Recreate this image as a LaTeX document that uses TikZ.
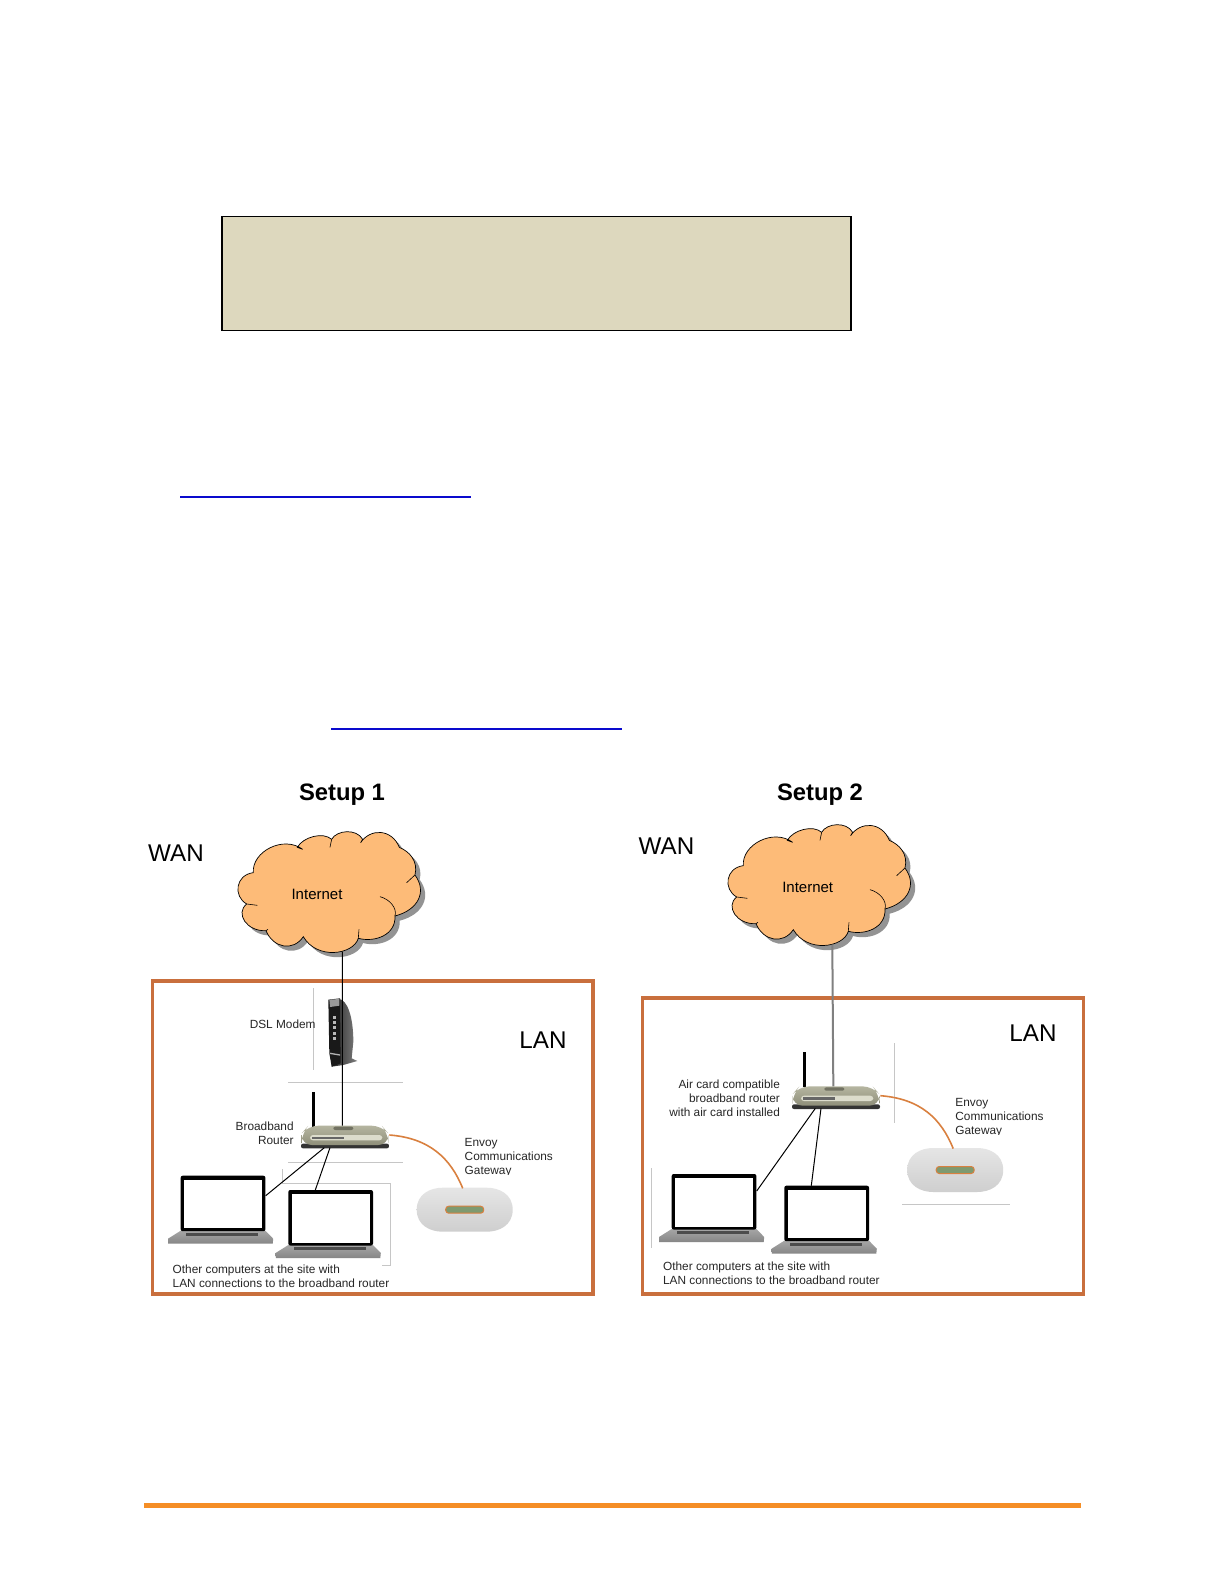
\documentclass[tikz,border=0pt]{standalone}
\usepackage{fontspec}
\setmainfont{Liberation Sans}
\definecolor{lanorange}{HTML}{C96F3D}
\definecolor{cloudfill}{HTML}{FDBB78}
\definecolor{notefill}{HTML}{DDD8BE}
\definecolor{linkblue}{HTML}{0A0ACD}
\definecolor{footorange}{HTML}{F58E26}
\definecolor{wireorange}{HTML}{D9803F}
\definecolor{routertop}{HTML}{B5B5A0}
\definecolor{routerlow}{HTML}{8F8F7A}
\definecolor{routerstrip}{HTML}{DCDCCC}
\definecolor{gwscreen}{HTML}{7E9A70}
\tikzset{
  cloudpath/.pic={
    \begin{scope}[scale=0.3333]
      \path[pic actions] (340,338) .. controls (335,275) and (430,225) .. (488,268)
        -- (472,262) .. controls (490,230) and (550,215) .. (575,238)
        .. controls (590,210) and (650,205) .. (668,238)
        -- (662,248) .. controls (690,205) and (755,205) .. (778,262)
        .. controls (810,275) and (835,305) .. (825,345)
        .. controls (862,395) and (835,450) .. (765,468)
        .. controls (768,525) and (705,548) .. (655,535)
        .. controls (640,585) and (530,600) .. (490,530)
        .. controls (460,575) and (400,565) .. (378,512)
        .. controls (320,515) and (285,460) .. (320,432)
        .. controls (280,410) and (285,345) .. (340,338) -- cycle;
    \end{scope}
  },
  cloudfolds/.pic={
    \begin{scope}[scale=0.3333]
      \draw[line width=0.3pt] (825,345) -- (800,368);
      \draw[line width=0.3pt] (720,410) .. controls (750,418) and (772,445) .. (765,468);
      \draw[line width=0.3pt] (655,535) -- (657,508);
      \draw[line width=0.3pt] (320,432) -- (352,436);
      \draw[line width=0.3pt] (378,512) -- (384,508);
      \draw[line width=0.3pt] (575,238) -- (570,262);
      \coordinate (-bottom) at (607,575);
    \end{scope}
  },
  laptop/.pic={
    \shade[top color=gray!70, bottom color=gray!95] (0,55) -- (84.7,55) -- (92.5,63) -- (92,68) -- (-12.5,68) -- (-12.7,63) -- cycle;
    \fill[black!70] (5.3,57) rectangle (77.7,60);
    \fill[black, rounded corners=1pt] (0,0) rectangle (84.7,55.5);
    \fill[white] (3.3,4) rectangle (81.3,52.7);
    \coordinate (-top) at (27,0);
    \coordinate (-right) at (85,20);
  },
  router/.pic={
    \begin{scope}[scale=0.3333]
      \fill[black] (52,20) rectangle (60,125);
      \fill[black!80, rounded corners=1pt] (18,176) rectangle (282,190);
      \shade[top color=routertop, bottom color=routerlow, rounded corners=5pt] (20,180) -- (20,145) -- (40,122) -- (260,122) -- (280,145) -- (280,180) -- cycle;
      \fill[routerlow!80!black, rounded corners=1pt] (115,125) rectangle (175,135);
      \fill[routerstrip, rounded corners=1.5pt] (45,150) rectangle (262,166);
      \fill[black!60] (52,155) rectangle (146,162);
      \coordinate (-top) at (142,122);
      \coordinate (-lana) at (88,188);
      \coordinate (-lanb) at (105,188);
      \coordinate (-wan) at (283,150);
    \end{scope}
  },
  gateway/.pic={
    \fill[white] (-52,-34.7) rectangle (52,-22);
    \shade[top color=gray!20, bottom color=gray!38] (-48,0) .. controls (-48,-16) and (-34,-22) .. (-22,-22) -- (22,-22) .. controls (34,-22) and (48,-16) .. (48,0) .. controls (48,16) and (34,22) .. (22,22) -- (-22,22) .. controls (-34,22) and (-48,16) .. (-48,0) -- cycle;
    \draw[draw=wireorange, fill=gwscreen, line width=0.5pt, rounded corners=1.5pt] (-19,-3.5) rectangle (19,3.5);
    \coordinate (-top) at (-2,-21.4);
  },
  modem/.pic={
    \begin{scope}[scale=0.3333]
      \shade[left color=black!85, right color=black!50] (118,42) .. controls (140,45) and (160,90) .. (160,170) -- (155,220) -- (172,228) -- (130,240) -- (95,245) -- cycle;
      \fill[black!90] (85,44) -- (120,40) -- (122,235) -- (95,245) -- (88,205) -- cycle;
      \fill[gray!80] (88,44) -- (118,42) -- (118,62) -- (90,66) -- cycle;
      \fill[gray!60] (90,203) -- (120,208) -- (120,212) -- (90,207) -- cycle;
      \foreach \ledy in {92,108,124,140,156}
        \fill[gray!55] (100,\ledy) rectangle (109,\ledy+9);
    \end{scope}
  },
}
\begin{document}
\begin{tikzpicture}[x=0.5pt, y=-0.5pt]
  %
  \tikzstyle{setuptitle} = [inner sep=0pt, font=\fontsize{11.9}{14}\selectfont\bfseries]
  \tikzstyle{zonelabel} = [inner sep=0pt, font=\fontsize{12.1}{14}\selectfont]
  \tikzstyle{devlabel} = [inner sep=0pt, text=black!85, font=\fontsize{5.92}{7}\selectfont]
  \tikzstyle{cloudlabel} = [inner sep=0pt, font=\fontsize{7.5}{9}\selectfont]
  \tikzstyle{lanbox} = [draw=lanorange, line width=1.75pt]
  \tikzstyle{faint} = [draw=gray!45, line width=0.3pt]
  \tikzstyle{wire} = [draw=black, line width=0.5pt]
  \tikzstyle{uplink} = [draw=gray, line width=1pt]
  \tikzstyle{orangewire} = [draw=wireorange, line width=0.8pt]
  %
  \useasboundingbox (0,0) rectangle (1224,1584);
  %
  \fill[white] (0,0) rectangle (1224,1584);
  \node[draw=black, fill=notefill, line width=0.9pt, minimum width=314.5pt, minimum height=57pt, inner sep=0pt] (notebox) at (536.5,273.5) {};
  \fill[linkblue] (180,495.8) rectangle (471,498.2);
  \fill[linkblue] (331,728) rectangle (622,730.4);
  \fill[footorange] (144,1503) rectangle (1081,1508);
  %
  \draw[lanbox] (152.5,981) rectangle (593,1294);
  \draw[lanbox] (642.7,998) rectangle (1083.3,1294);
  %
  \draw[faint] (313,988) -- (313,1070);
  \draw[faint] (288,1082.7) -- (403,1082.7);
  \draw[faint] (288,1162) -- (403,1162);
  \draw[faint] (282.7,1169) -- (282.7,1183) -- (390.7,1183) -- (390.7,1265) -- (382,1265);
  \draw[faint] (894.3,1043) -- (894.3,1123);
  \draw[faint] (651.7,1168) -- (651.7,1248);
  \draw[faint] (902,1204) -- (1010,1204);
  %
  \node[setuptitle] (titleA) at (342,794.5) {Setup 1};
  \node[setuptitle] (titleB) at (820,794.5) {Setup 2};
  \node[zonelabel] (wanA) at (176,853) {WAN};
  \node[zonelabel] (wanB) at (666.5,846.5) {WAN};
  \node[zonelabel] (lanA) at (543,1040) {LAN};
  \node[zonelabel] (lanB) at (1033,1033.5) {LAN};
  %
  \node[devlabel, anchor=east] (modemlabel) at (316,1024) {DSL Modem};
  \node[devlabel, anchor=east, align=right] (routerlabelA) at (294,1133.7) {Broadband\\Router};
  \node[devlabel, anchor=east, align=right] (routerlabelB) at (780.3,1098.3) {Air card compatible\\broadband router\\with air card installed};
  \node[devlabel, anchor=west, align=left] (gwlabelA) at (464.3,1157.5) {Envoy\\Communications\\Gateway};
  \node[devlabel, anchor=west, align=left] (gwlabelB) at (955,1117.7) {Envoy\\Communications\\Gateway};
  \node[devlabel, anchor=west, align=left] (pclabelA) at (172.3,1276.3) {Other computers at the site with\\LAN connections to the broadband router};
  \node[devlabel, anchor=west, align=left] (pclabelB) at (662.7,1273.4) {Other computers at the site with\\LAN connections to the broadband router};
  %
  \pic[fill=gray!85] at (144.7,764.7) {cloudpath};
  \pic[fill=cloudfill, draw=black, line width=0.35pt] at (140,760) {cloudpath};
  \pic (cloudA) at (140,760) {cloudfolds};
  \pic[fill=gray!85] at (634.7,757.7) {cloudpath};
  \pic[fill=cloudfill, draw=black, line width=0.35pt] at (630,753) {cloudpath};
  \pic (cloudB) at (630,753) {cloudfolds};
  \node[cloudlabel] (inetA) at (317,894) {Internet};
  \node[cloudlabel] (inetB) at (807.7,887) {Internet};
  %
  \pic (modemA) at (300,985) {modem};
  \pic (routerA) at (295,1085) {router};
  \pic (routerB) at (786,1045.7) {router};
  \pic (gatewayA) at (464.7,1209.7) {gateway};
  \pic (gatewayB) at (955.2,1170) {gateway};
  \pic (laptopA) at (180.7,1175.7) {laptop};
  \pic (laptopB) at (288.3,1190) {laptop};
  \pic (laptopC) at (671.7,1174) {laptop};
  \pic (laptopD) at (784.3,1185.7) {laptop};
  %
  \draw[wire] (cloudA-bottom) -- (routerA-top);
  \draw[uplink] (cloudB-bottom) -- (routerB-top);
  \draw[wire] (routerA-lana) -- (laptopA-right);
  \draw[wire] (routerA-lanb) -- (laptopB-top);
  \draw[wire] (routerB-lana) -- ([yshift=1.5pt]laptopC-right);
  \draw[wire] (routerB-lanb) -- (laptopD-top);
  \draw[orangewire] (routerA-wan) .. controls +(40,3) and +(-12,-30) .. (gatewayA-top);
  \draw[orangewire] (routerB-wan) .. controls +(40,3) and +(-12,-30) .. (gatewayB-top);
\end{tikzpicture}
\end{document}
